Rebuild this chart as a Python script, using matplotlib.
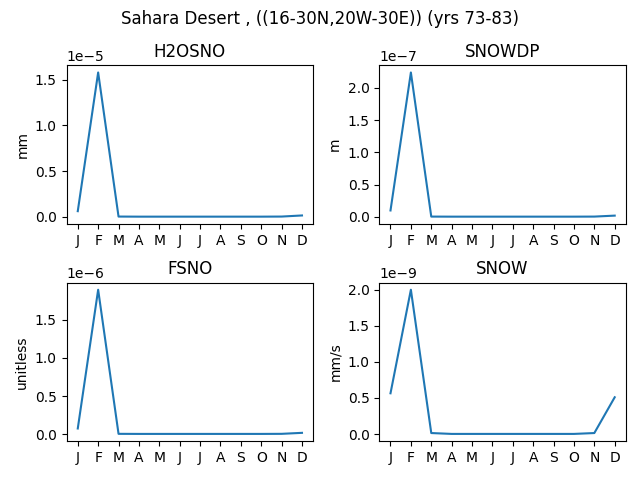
import numpy as np
import matplotlib
matplotlib.use('Agg')
import matplotlib.pyplot as plt

months = ['J','F','M','A','M','J','J','A','S','O','N','D']

h2osno = np.array([0.062, 1.58, 0.003, 0.002, 0.002, 0.002, 0.002, 0.002, 0.002, 0.002, 0.003, 0.015])*1e-5
snowdp = np.array([0.10, 2.24, 0.005, 0.004, 0.004, 0.004, 0.004, 0.004, 0.004, 0.004, 0.005, 0.02])*1e-7
fsno = np.array([0.075, 1.895, 0.005, 0.004, 0.004, 0.004, 0.004, 0.004, 0.004, 0.004, 0.005, 0.018])*1e-6
snow = np.array([0.565, 2.0, 0.014, 0.002, 0.002, 0.002, 0.002, 0.002, 0.002, 0.002, 0.014, 0.51])*1e-9

names = ['H2OSNO', 'SNOWDP', 'FSNO', 'SNOW']
units = ['mm', 'm', 'unitless', 'mm/s']
series = [h2osno, snowdp, fsno, snow]

fig, axs = plt.subplots(2, 2, figsize=(6.4, 4.8))
x = np.arange(12)
for ax, name, unit, vals in zip(axs.flat, names, units, series):
    ax.plot(x, vals)
    ax.set_title(name)
    ax.set_ylabel(unit)
    ax.set_xticks(x)
    ax.set_xticklabels(months)

fig.suptitle('Sahara Desert , ((16-30N,20W-30E)) (yrs 73-83)')
fig.subplots_adjust(left=0.104, right=0.978, top=0.864, bottom=0.081,
                    wspace=0.268, hspace=0.37)
plt.savefig('out.png', dpi=100)
